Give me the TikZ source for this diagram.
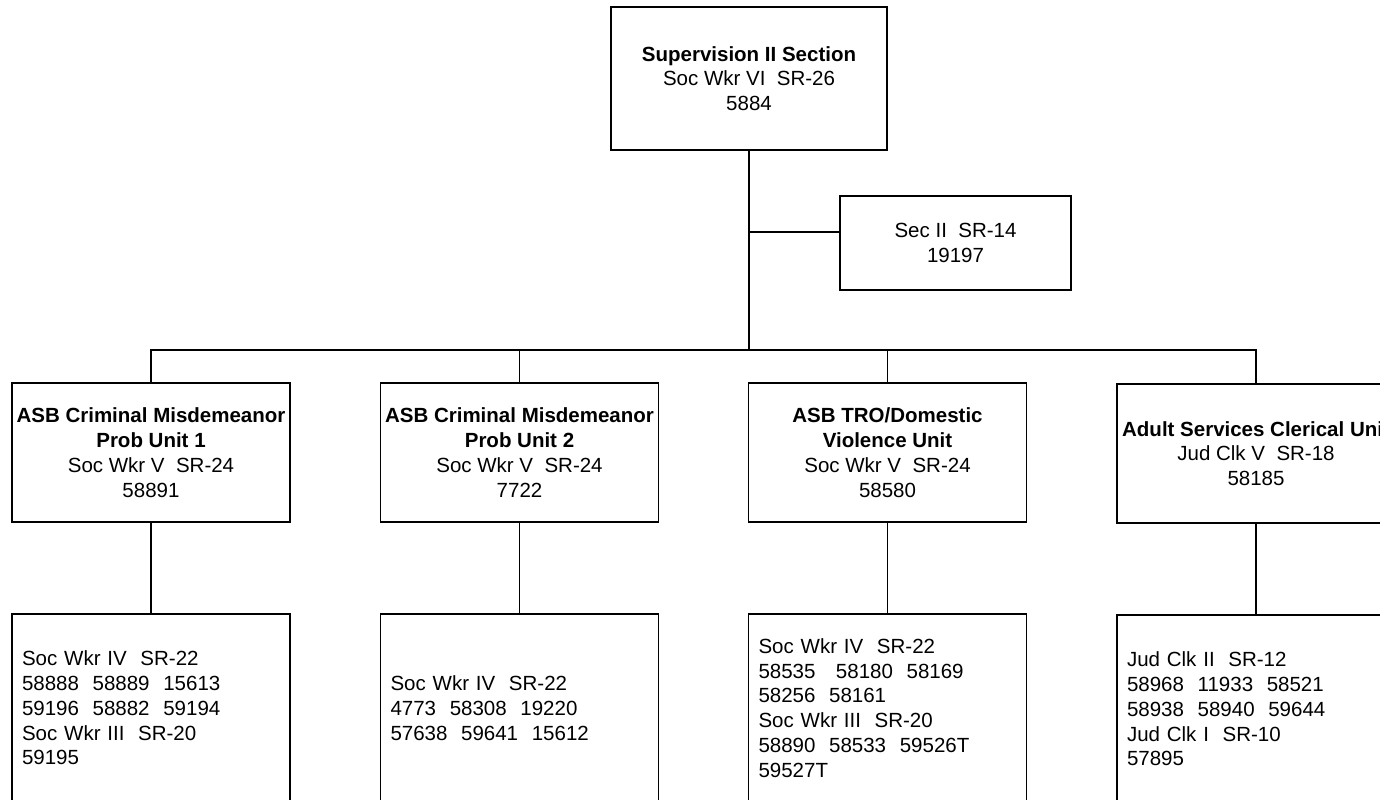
\documentclass[tikz,border=0pt]{standalone}
\usepackage{fontspec}
\setmainfont{Liberation Sans}
\begin{document}
\begin{tikzpicture}[x=0.5pt,y=-0.5pt,
  box/.style={draw=black,line width=0.9pt,fill=white,inner sep=0pt,
    font=\fontsize{10.25pt}{12.4pt}\selectfont,align=center},
  topbox/.style={box,minimum width=138pt,minimum height=71.5pt},
  secbox/.style={box,minimum width=115.5pt,minimum height=47pt},
  unitbox/.style={box,minimum width=139pt,minimum height=69.5pt},
  staffbox/.style={box,minimum width=139pt,minimum height=94pt,text width=129pt,inner xsep=5pt,align=left},
  link/.style={draw=black,line width=0.7pt}]
\useasboundingbox (0,0) rectangle (1380,799);
\clip (0,0) rectangle (1380,799);
\fill[white] (0,0) rectangle (1380,799);

\node[topbox] (top) at (749,78.5) {\textbf{Supervision II Section}\\Soc Wkr VI\ \ SR-26\\5884};
\node[secbox] (sec) at (955.5,243) {Sec II\ \ SR-14\\19197};

\node[unitbox] (u1) at (151,452.5) {\textbf{ASB Criminal Misdemeanor}\\\textbf{Prob Unit 1}\\Soc Wkr V\ \ SR-24\\58891};
\node[unitbox] (u2) at (519.5,452.5) {\textbf{ASB Criminal Misdemeanor}\\\textbf{Prob Unit 2}\\Soc Wkr V\ \ SR-24\\7722};
\node[unitbox] (u3) at (887.5,452.5) {\textbf{ASB TRO/Domestic}\\\textbf{Violence Unit}\\Soc Wkr V\ \ SR-24\\58580};
\node[unitbox] (u4) at (1256,453.5) {\textbf{Adult Services Clerical Unit}\\Jud Clk V\ \ SR-18\\58185};

\node[staffbox] (s1) at (151,708) {Soc Wkr IV\ \ SR-22\\58888\ \ 58889\ \ 15613\\59196\ \ 58882\ \ 59194\\Soc Wkr III\ \ SR-20\\59195};
\node[staffbox] (s2) at (519.5,708) {Soc Wkr IV\ \ SR-22\\4773\ \ 58308\ \ 19220\\57638\ \ 59641\ \ 15612};
\node[staffbox] (s3) at (887.5,708) {Soc Wkr IV\ \ SR-22\\58535\ \ \ 58180\ \ 58169\\58256\ \ 58161\\Soc Wkr III\ \ SR-20\\58890\ \ 58533\ \ 59526T\\59527T};
\node[staffbox] (s4) at (1256,709) {Jud Clk II\ \ SR-12\\58968\ \ 11933\ \ 58521\\58938\ \ 58940\ \ 59644\\Jud Clk I\ \ SR-10\\57895};

\coordinate (bus) at (749,350);
\path ([yshift=5.5pt]sec.west) coordinate (sj);

\draw[link] (top.south) -- (top.south |- bus);
\draw[link] (sj) -- (sj -| top.south);
\draw[link] (u1.north) -- (u1.north |- bus) -- (u4.north |- bus) -- (u4.north);
\draw[link] (u2.north) -- (u2.north |- bus);
\draw[link] (u3.north) -- (u3.north |- bus);
\draw[link] (u1.south) -- (s1.north -| u1.south);
\draw[link] (u2.south) -- (s2.north -| u2.south);
\draw[link] (u3.south) -- (s3.north -| u3.south);
\draw[link] (u4.south) -- (s4.north -| u4.south);
\end{tikzpicture}
\end{document}
